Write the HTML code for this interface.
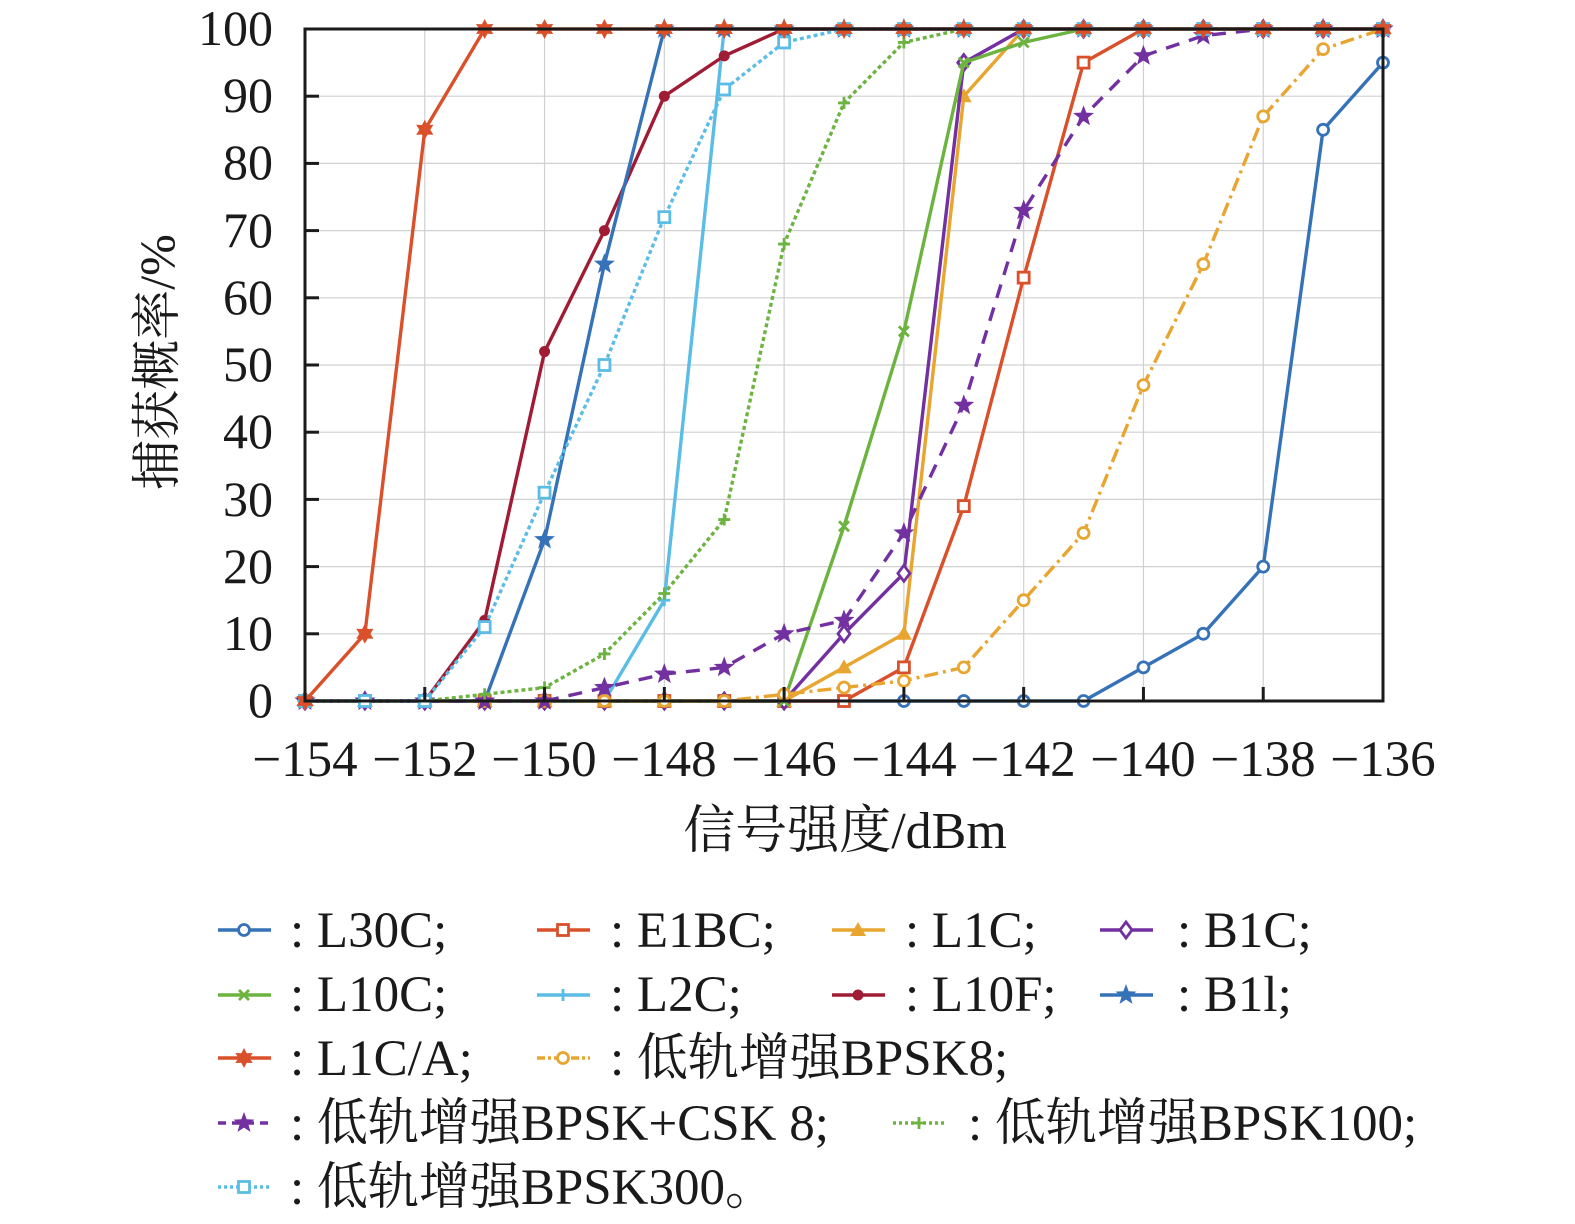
<!DOCTYPE html>
<html><head><meta charset="utf-8"><style>
html,body{margin:0;padding:0;background:#fff}
svg{display:block}
text{font-family:"Liberation Serif","Noto Serif CJK SC",serif;fill:#1a1a1a}
</style></head><body>
<svg id="s" width="1575" height="1224" viewBox="0 0 1575 1224" xmlns="http://www.w3.org/2000/svg">
<g id="grid" stroke="#d0d0d0" stroke-width="1.2"></g>
<g id="series"></g>
<rect x="305" y="29" width="1078" height="672" fill="none" stroke="#1a1a1a" stroke-width="3"/>
<g id="ticks" stroke="#1a1a1a" stroke-width="3"></g>
<g font-size="50" text-anchor="end">
<text x="273" y="45">100</text><text x="273" y="112">90</text><text x="273" y="179">80</text><text x="273" y="247">70</text><text x="273" y="314">60</text><text x="273" y="381">50</text><text x="273" y="448">40</text><text x="273" y="516">30</text><text x="273" y="583">20</text><text x="273" y="650">10</text><text x="273" y="717">0</text>
</g>
<g font-size="51" text-anchor="middle">
<text x="305" y="776">−154</text><text x="425" y="776">−152</text><text x="544" y="776">−150</text><text x="664" y="776">−148</text><text x="784" y="776">−146</text><text x="904" y="776">−144</text><text x="1023" y="776">−142</text><text x="1143" y="776">−140</text><text x="1263" y="776">−138</text><text x="1383" y="776">−136</text>
</g>
<text x="845" y="848" font-size="52" text-anchor="middle">信号强度/dBm</text>
<text transform="translate(174,362) rotate(-90)" font-size="50" text-anchor="middle">捕获概率/%</text>
<g id="leg"></g>
<g font-size="51">
<text x="290" y="947">: L30C;</text><text x="610" y="947">: E1BC;</text><text x="905" y="947">: L1C;</text><text x="1177" y="947">: B1C;</text>
<text x="290" y="1011">: L10C;</text><text x="610" y="1011">: L2C;</text><text x="905" y="1011">: L10F;</text><text x="1177" y="1011">: B1l;</text>
<text x="290" y="1075">: L1C/A;</text><text x="610" y="1075">: 低轨增强BPSK8;</text>
<text x="290" y="1140">: 低轨增强BPSK+CSK 8;</text><text x="968" y="1140">: 低轨增强BPSK100;</text>
<text x="290" y="1204">: 低轨增强BPSK300。</text>
</g>
</svg>
<script>
var NS="http://www.w3.org/2000/svg";
function X(v){return 305+(v+154)*1078/18}
function Y(p){return 701-p*6.72}
function el(par,tag,a){var e=document.createElementNS(NS,tag);for(var k in a)e.setAttribute(k,a[k]);document.getElementById(par).appendChild(e);return e}
for(var v=-152;v<-136;v+=2)el('grid','line',{x1:X(v),x2:X(v),y1:29,y2:701});
for(var p=10;p<100;p+=10)el('grid','line',{x1:305,x2:1383,y1:Y(p),y2:Y(p)});
for(var p=10;p<100;p+=10)el('ticks','line',{x1:305,x2:319,y1:Y(p),y2:Y(p)});
for(var v=-152;v<-136;v+=2)el('ticks','line',{x1:X(v),x2:X(v),y1:701,y2:687});
function star(cx,cy,r,n){var s="";n=n||5;for(var i=0;i<2*n;i++){var a=-Math.PI/2+i*Math.PI/n,rr=i%2?r*(n==5?0.42:0.55):r;s+=(i?"L":"M")+(cx+rr*Math.cos(a)).toFixed(1)+","+(cy+rr*Math.sin(a)).toFixed(1)}return s+"Z"}
function marker(g,m,x,y,c){
 switch(m){
 case'co':el(g,'circle',{cx:x,cy:y,r:5.5,fill:'#fff',stroke:c,'stroke-width':2.8});break;
 case'cf':el(g,'circle',{cx:x,cy:y,r:5.5,fill:c});break;
 case'sq':el(g,'rect',{x:x-5.5,y:y-5.5,width:11,height:11,fill:'#fff',stroke:c,'stroke-width':2.8});break;
 case'tr':el(g,'path',{d:'M'+x+','+(y-8)+'L'+(x+8)+','+(y+6)+'L'+(x-8)+','+(y+6)+'Z',fill:c});break;
 case'di':el(g,'path',{d:'M'+x+','+(y-8)+'L'+(x+6)+','+y+'L'+x+','+(y+8)+'L'+(x-6)+','+y+'Z',fill:'#fff',stroke:c,'stroke-width':2.8});break;
 case'pl':el(g,'path',{d:'M'+(x-6)+','+y+'H'+(x+6)+'M'+x+','+(y-6)+'V'+(y+6),stroke:c,'stroke-width':2.8});break;
 case'xx':el(g,'path',{d:'M'+(x-5)+','+(y-5)+'L'+(x+5)+','+(y+5)+'M'+(x+5)+','+(y-5)+'L'+(x-5)+','+(y+5),stroke:c,'stroke-width':2.8});break;
 case'st':el(g,'path',{d:star(x,y,11,5),fill:c});break;
 case'hx':el(g,'path',{d:star(x,y,10,6),fill:c});break;
 }}
var S=[
 ['#3572B8','co','',[0,0,0,0,0,0,0,0,0,0,0,0,0,0,5,10,20,85,95]],
 ['#D9502A','sq','',[0,0,0,0,0,0,0,0,0,0,5,29,63,95,100,100,100,100,100]],
 ['#E8A530','tr','',[0,0,0,0,0,0,0,0,0,5,10,90,100,100,100,100,100,100,100]],
 ['#7230A0','di','',[0,0,0,0,0,0,0,0,0,10,19,95,100,100,100,100,100,100,100]],
 ['#6CB33F','xx','',[0,0,0,0,0,0,0,0,0,26,55,95,98,100,100,100,100,100,100]],
 ['#5BBDE6','pl','',[0,0,0,0,0,0,15,100,100,100,100,100,100,100,100,100,100,100,100]],
 ['#A01C35','cf','',[0,0,0,12,52,70,90,96,100,100,100,100,100,100,100,100,100,100,100]],
 ['#3572B8','st','',[0,0,0,0,24,65,100,100,100,100,100,100,100,100,100,100,100,100,100]],
 ['#E8A530','co','14,5,3,5',[0,0,0,0,0,0,0,0,1,2,3,5,15,25,47,65,87,97,100]],
 ['#7230A0','st','14,10',[0,0,0,0,0,2,4,5,10,12,25,44,73,87,96,99,100,100,100]],
 ['#6CB33F','pl','4,3',[0,0,0,1,2,7,16,27,68,89,98,100,100,100,100,100,100,100,100]],
 ['#5BBDE6','sq','4,3',[0,0,0,11,31,50,72,91,98,100,100,100,100,100,100,100,100,100,100]],
 ['#D9502A','hx','',[0,10,85,100,100,100,100,100,100,100,100,100,100,100,100,100,100,100,100]]
];
S.forEach(function(s){
 var d="";s[3].forEach(function(p,i){d+=(i?"L":"M")+X(-154+i).toFixed(1)+","+Y(p).toFixed(1)});
 var a={d:d,fill:'none',stroke:s[0],'stroke-width':3.4,'stroke-linejoin':'round'};if(s[2])a['stroke-dasharray']=s[2];
 el('series','path',a);
 s[3].forEach(function(p,i){marker('series',s[1],X(-154+i),Y(p),s[0])});
});
var L=[[0,218,930],[1,537,930],[2,832,930],[3,1100,930],[4,218,995],[5,537,995],[6,832,995],[7,1100,995],[12,218,1058],[8,537,1058],[9,218,1123],[10,893,1123],[11,218,1187]];
L.forEach(function(l){var s=S[l[0]];var a={x1:l[1],x2:l[1]+53,y1:l[2],y2:l[2],stroke:s[0],'stroke-width':3.4};if(s[2])a['stroke-dasharray']=s[2]=='14,10'?'8,6':(s[2]=='4,3'?'3,3':'8,3,3,3');el('leg','line',a);marker('leg',s[1],l[1]+26,l[2],s[0]);});
</script>
</body></html>
